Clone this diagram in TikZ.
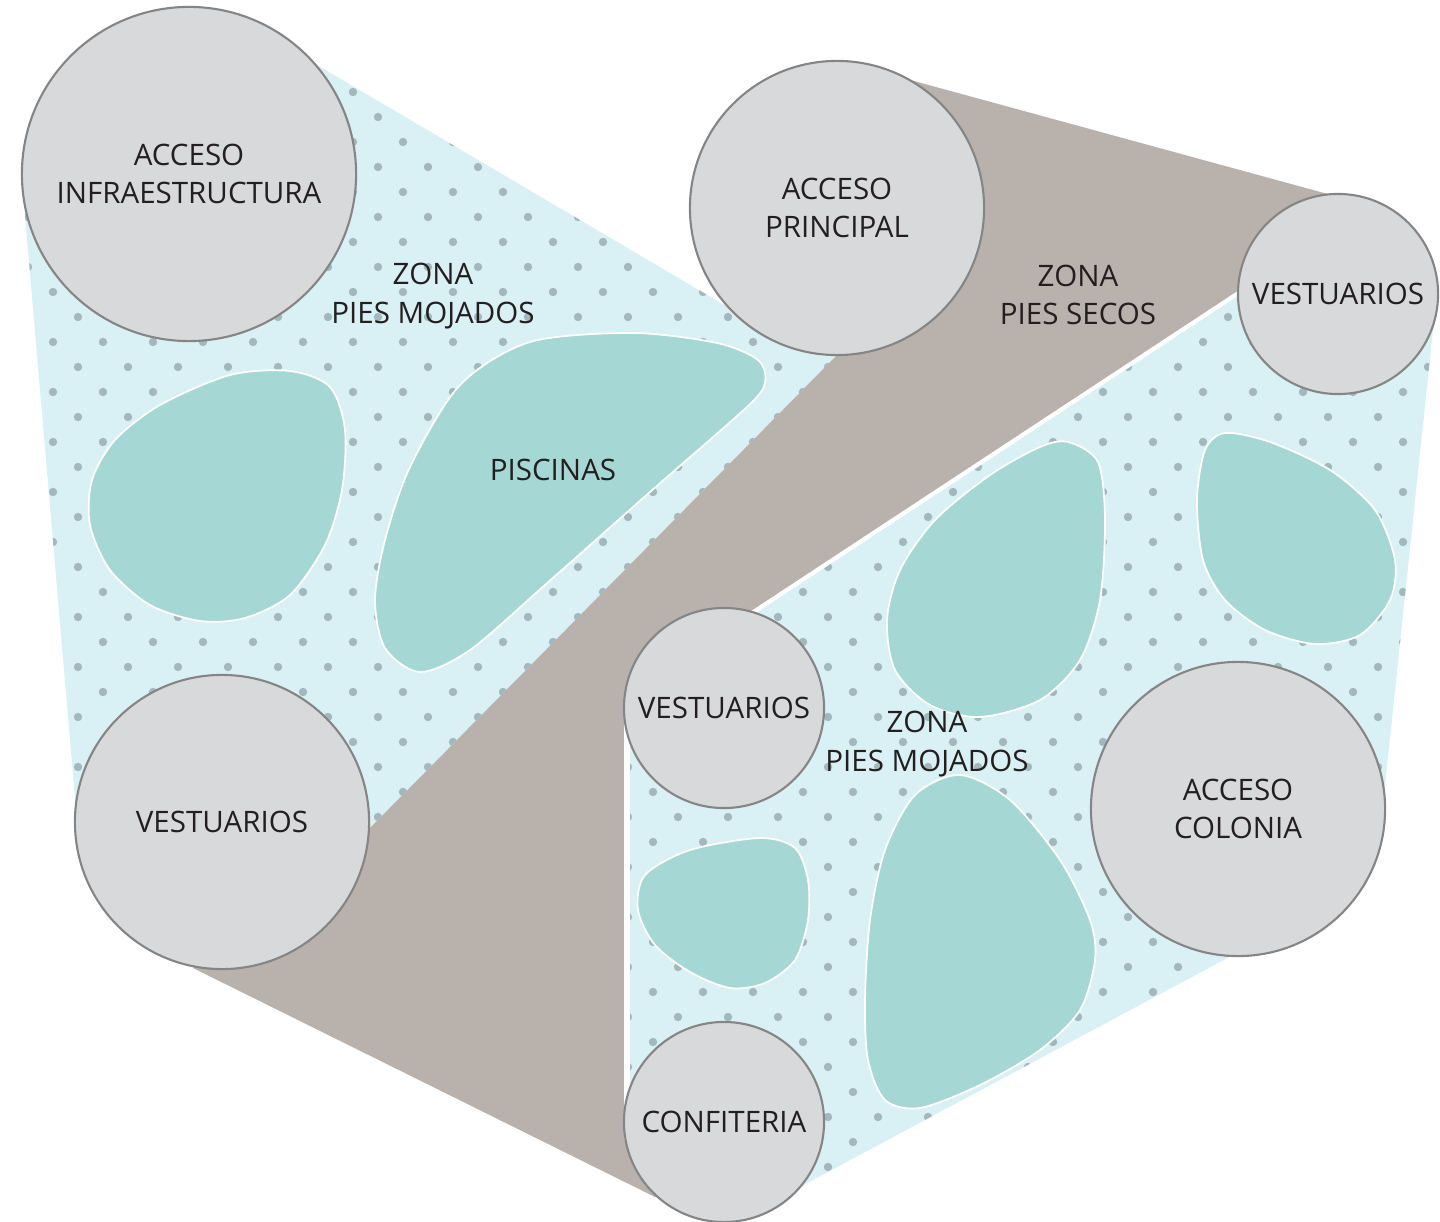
\documentclass[tikz,border=0pt]{standalone}
\usepackage{fontspec}
\setmainfont{Open Sans}

\definecolor{wetzone}{HTML}{D9F0F4}
\definecolor{dryzone}{HTML}{B9B2AC}
\definecolor{poolteal}{HTML}{A5D7D4}
\definecolor{roomfill}{HTML}{D8D9DB}
\definecolor{roomline}{HTML}{858585}
\definecolor{dotgray}{HTML}{A2B8BD}
\definecolor{ink}{HTML}{231F20}

\begin{document}
\begin{tikzpicture}[x=0.01cm, y=-0.01cm,
    room/.style={circle, draw=roomline, fill=roomfill, line width=0.6pt, inner sep=0pt,
        align=center, text=ink, font=\fontsize{8.4}{10.9}\selectfont},
    hugeroom/.style={room, minimum size=3.34cm},
    bigroom/.style={room, minimum size=2.94cm},
    smallroom/.style={room, minimum size=2cm},
    pool/.style={fill=poolteal, draw=white, line width=0.5pt},
    zonelabel/.style={align=center, text=ink, font=\fontsize{8.4}{10.9}\selectfont}
]
    \useasboundingbox (0,0) rectangle (1440,1222);

    % Zones
    \fill[wetzone] (22,180) -- (300,55) -- (760,326) -- (842,350) -- (368,830) -- (76,810) -- cycle;
    \fill[dryzone] (903,78) -- (1335,196) -- (1240,292) -- (752,613) -- (627,700)
        -- (627,1140) -- (680,1190) -- (655,1197) -- (193,968) -- (368,830) -- (842,350) -- cycle;
    \fill[wetzone] (1240,292) -- (1434,320) -- (1384,795) -- (1233,955) -- (785,1195)
        -- (627,1140) -- (627,705) -- (752,613) -- cycle;

    % Dot pattern on the wet zones
    \begin{scope}
        \clip (22,180) -- (300,55) -- (760,326) -- (842,350) -- (368,830) -- (76,810) -- cycle
              (1240,292) -- (1434,320) -- (1384,795) -- (1233,955) -- (785,1195)
              -- (627,1140) -- (627,705) -- (752,613) -- cycle;
        \foreach \j in {0,...,49} {
            \pgfmathsetmacro\shift{28+25*mod(\j,2)}
            \foreach \i in {0,...,28}
                \fill[dotgray] (\i*50+\shift, \j*25+17) circle[radius=0.042cm];
        }
    \end{scope}

    % Gap between dry and wet zone
    \draw[white, line width=1.2pt] (1240,292) -- (752,613);
    \draw[white, line width=1.6pt] (627,705) -- (627,1140);

    % Pools
    \draw[pool] plot[smooth cycle] coordinates {(230,375) (290,371) (330,387) (345,430) (342,490)
        (325,545) (290,595) (245,618) (200,621) (150,605) (110,570) (90,525) (92,480) (115,440) (160,405)};
    \draw[pool] plot[smooth cycle] coordinates {(633,333) (717,343) (758,360) (765,382) (748,406)
        (650,492) (545,585) (470,650) (420,672) (385,648) (375,600) (385,540) (410,467)
        (460,385) (530,342)};
    \draw[pool] plot[smooth cycle] coordinates {(1068,442) (1098,462) (1105,520) (1100,600) (1080,660)
        (1040,700) (980,717) (930,705) (895,670) (887,620) (900,570) (935,520) (990,475) (1040,447)};
    \draw[pool] plot[smooth cycle] coordinates {(1225,433) (1270,442) (1330,470) (1375,510) (1395,560)
        (1390,600) (1360,635) (1315,644) (1265,630) (1225,600) (1203,560) (1197,500) (1205,450)};
    \draw[pool] plot[smooth cycle] coordinates {(760,838) (795,848) (808,880) (808,920) (795,960)
        (765,983) (730,988) (690,972) (655,945) (638,910) (645,875) (690,850)};
    \draw[pool] plot[smooth cycle] coordinates {(960,775) (1010,800) (1060,860) (1090,920) (1095,960)
        (1080,1010) (1040,1050) (980,1085) (920,1108) (885,1100) (868,1060) (865,1000) (870,920)
        (885,850) (915,795)};

    % Rooms
    \node[hugeroom] (infra) at (189,174) {ACCESO\\INFRAESTRUCTURA};
    \node[bigroom] (principal) at (837,208) {ACCESO\\PRINCIPAL};
    \node[smallroom] (vestnorte) at (1338,294) {VESTUARIOS};
    \node[bigroom] (vestoeste) at (222,822) {VESTUARIOS};
    \node[smallroom] (vestcentro) at (724,708) {VESTUARIOS};
    \node[bigroom] (colonia) at (1238,809) {ACCESO\\COLONIA};
    \node[smallroom] (confiteria) at (724,1122) {CONFITERIA};

    % Zone labels
    \node[zonelabel] (mojadosa) at (433,296) {ZONA\\PIES MOJADOS};
    \node[zonelabel] (secos) at (1078,295) {ZONA\\PIES SECOS};
    \node[zonelabel] (mojadosb) at (927,744) {ZONA\\PIES MOJADOS};
    \node[zonelabel] (piscinas) at (553,470) {PISCINAS};
\end{tikzpicture}
\end{document}
